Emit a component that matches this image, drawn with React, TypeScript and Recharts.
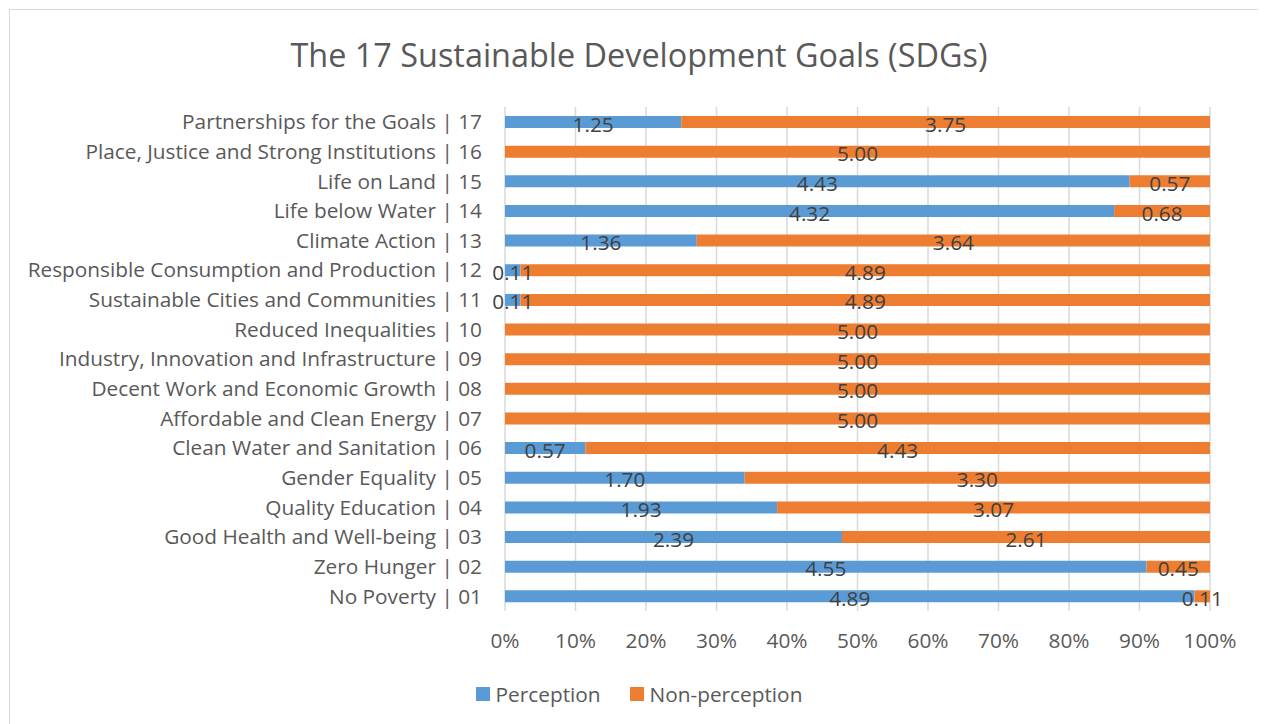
import React from 'react';
import { BarChart, Bar, XAxis, YAxis, CartesianGrid, LabelList } from 'recharts';

// top-to-bottom order as drawn
const goals = [
  'Partnerships for the Goals | 17',
  'Place, Justice and Strong Institutions | 16',
  'Life on Land | 15',
  'Life below Water | 14',
  'Climate Action | 13',
  'Responsible Consumption and Production | 12',
  'Sustainable Cities and Communities | 11',
  'Reduced Inequalities | 10',
  'Industry, Innovation and Infrastructure | 09',
  'Decent Work and Economic Growth | 08',
  'Affordable and Clean Energy | 07',
  'Clean Water and Sanitation | 06',
  'Gender Equality | 05',
  'Quality Education | 04',
  'Good Health and Well-being | 03',
  'Zero Hunger | 02',
  'No Poverty | 01',
];
const perception = [1.25, 0, 4.43, 4.32, 1.36, 0.11, 0.11, 0, 0, 0, 0, 0.57, 1.7, 1.93, 2.39, 4.55, 4.89];
const nonPerception = [3.75, 5.0, 0.57, 0.68, 3.64, 4.89, 4.89, 5.0, 5.0, 5.0, 5.0, 4.43, 3.3, 3.07, 2.61, 0.45, 0.11];
const xTicks = [0, 0.1, 0.2, 0.3, 0.4, 0.5, 0.6, 0.7, 0.8, 0.9, 1];

const data = goals.map((name, i) => ({ name, perception: perception[i], nonPerception: nonPerception[i] }));

const BLUE = '#5B9BD5';
const ORANGE = '#ED7D31';
const FONT = '"Open Sans", sans-serif';
const FS = 20.8;

const renderLabel = (props: any) => {
  const { x, y, width, height, value } = props;
  if (!value) return null;
  return (
    <text
      x={Number(x) + Number(width) / 2}
      y={Number(y) + Number(height) / 2 + 4}
      textAnchor="middle"
      dominantBaseline="middle"
      fill="#404040"
      fontSize={FS}
      fontFamily={FONT}
    >
      {Number(value).toFixed(2)}
    </text>
  );
};

const App: React.FC = () => {
  return (
    <div
      style={{
        position: 'relative',
        width: 1258,
        height: 714,
        border: '1px solid #d9d9d9',
        marginLeft: 1,
        marginTop: 1,
        background: '#fff',
        fontFamily: FONT,
      }}
    >
      <div
        style={{
          position: 'absolute',
          top: 24,
          left: 0,
          width: '100%',
          textAlign: 'center',
          fontSize: 32.4,
          lineHeight: '40px',
          color: '#595959',
        }}
      >
        The 17 Sustainable Development Goals (SDGs)
      </div>
      <BarChart
        width={1258}
        height={714}
        data={data}
        layout="vertical"
        stackOffset="expand"
        margin={{ top: 97, right: 58, bottom: 73, left: 0 }}
      >
        <CartesianGrid horizontal={false} stroke="#d9d9d9" strokeWidth={1.5} />
        <XAxis
          type="number"
          domain={[0, 1]}
          ticks={xTicks}
          tickFormatter={(v: number) => `${Math.round(v * 100)}%`}
          axisLine={false}
          tickLine={false}
          tickSize={0}
          tickMargin={22}
          height={40}
          interval={0}
          tick={{ fill: '#595959', fontSize: FS, fontFamily: FONT }}
        />
        <YAxis
          type="category"
          dataKey="name"
          width={495}
          axisLine={false}
          tickLine={false}
          tickSize={0}
          tickMargin={23}
          interval={0}
          tick={{ fill: '#595959', fontSize: FS, fontFamily: FONT }}
        />
        <Bar dataKey="perception" stackId="a" fill={BLUE} barSize={12} isAnimationActive={false}>
          <LabelList dataKey="perception" content={renderLabel} />
        </Bar>
        <Bar dataKey="nonPerception" stackId="a" fill={ORANGE} barSize={12} isAnimationActive={false}>
          <LabelList dataKey="nonPerception" content={renderLabel} />
        </Bar>
      </BarChart>
      <div
        style={{
          position: 'absolute',
          top: 670,
          left: 0,
          width: '100%',
          display: 'flex',
          justifyContent: 'center',
          alignItems: 'center',
          fontSize: FS,
          color: '#595959',
        }}
      >
        <span style={{ width: 14, height: 14, background: BLUE, display: 'inline-block', marginRight: 6 }} />
        <span style={{ marginRight: 29 }}>Perception</span>
        <span style={{ width: 14, height: 14, background: ORANGE, display: 'inline-block', marginRight: 6 }} />
        <span>Non-perception</span>
      </div>
    </div>
  );
};

export default App;
